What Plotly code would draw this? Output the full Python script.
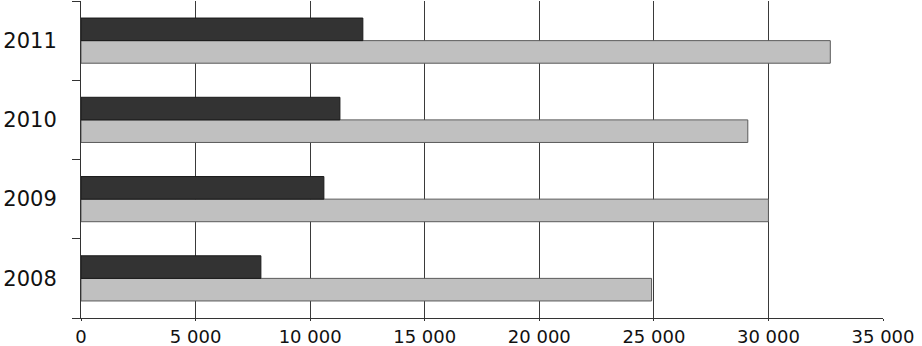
import plotly.graph_objects as go

years = ["2008", "2009", "2010", "2011"]
dark_values = [7850, 10600, 11300, 12300]
light_values = [24900, 30000, 29100, 32700]
x_tick_vals = [0, 5000, 10000, 15000, 20000, 25000, 30000, 35000]
x_tick_text = ["0", "5 000", "10 000", "15 000", "20 000", "25 000", "30 000", "35 000"]

fig = go.Figure()
fig.add_trace(go.Bar(
    y=years, x=light_values, orientation="h",
    marker=dict(color="#c0c0c0", line=dict(color="#5a5a5a", width=1)),
    showlegend=False,
))
fig.add_trace(go.Bar(
    y=years, x=dark_values, orientation="h",
    marker=dict(color="#333333", line=dict(color="#1a1a1a", width=1)),
    showlegend=False,
))

fig.update_layout(
    width=922, height=346,
    margin=dict(l=81, r=39, t=1, b=28),
    barmode="group", bargap=0.43, bargroupgap=0,
    plot_bgcolor="white", paper_bgcolor="white",
    font=dict(family="DejaVu Sans", size=20, color="#111111"),
    xaxis=dict(
        range=[0, 35000], tickvals=x_tick_vals, ticktext=x_tick_text,
        tickfont=dict(size=18),
        showgrid=True, gridcolor="#3a3a3a", gridwidth=1,
        showline=True, linecolor="#333333", linewidth=1,
        ticks="outside", ticklen=2, tickcolor="#333333",
        zeroline=False, ticklabelstandoff=0, automargin=False,
    ),
    yaxis=dict(
        type="category", categoryorder="array", categoryarray=years,
        tickfont=dict(size=21),
        range=[-0.5, 3.5], showgrid=False,
        showline=True, linecolor="#333333", linewidth=1,
        ticks="outside", ticklen=8, tickcolor="#333333", tickson="boundaries",
        ticklabelstandoff=19, automargin=False,
    ),
)

fig.write_html(
    "out.html",
    config={"displayModeBar": False},
    post_script="document.body.style.margin='0';document.body.style.overflow='hidden';",
)
